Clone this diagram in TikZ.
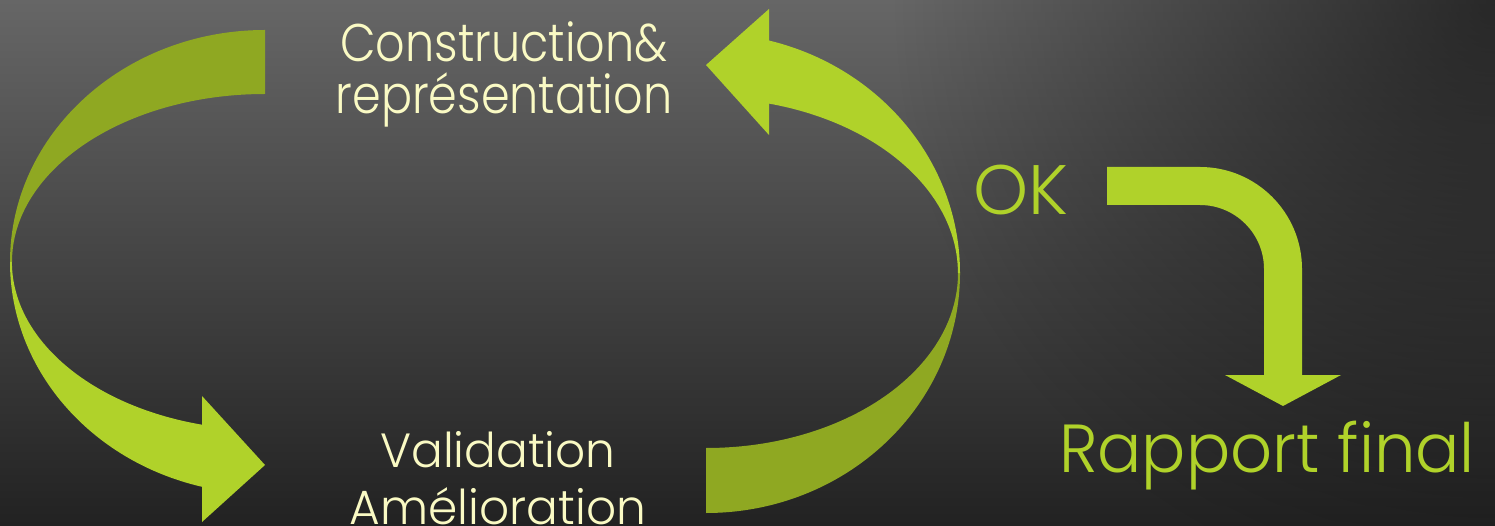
\documentclass[tikz,border=0pt]{standalone}
\usepackage{fontspec}
\IfFontExistsTF{Poppins Light}{\setmainfont{Poppins Light}}{\setmainfont{Poppins}}
\usetikzlibrary{fadings}
\definecolor{gbright}{HTML}{B0D22A}
\definecolor{gdark}{HTML}{8FA822}
\definecolor{txtcol}{HTML}{FAFAC4}
\definecolor{bgtop}{HTML}{666666}
\definecolor{bgbot}{HTML}{222222}
\tikzfading[name=cornerfade, inner color=transparent!40, outer color=transparent!100]
\newcommand{\narrow}[2]{\scalebox{#1}[1]{#2}}
\begin{document}
\begin{tikzpicture}[x=1pt,y=1pt,
  ribbonlight/.style={fill=gbright},
  ribbondark/.style={fill=gdark},
  pale/.style={text=txtcol, align=center, inner sep=0pt},
  greenlabel/.style={text=gbright, inner sep=0pt},
  lbendarrow/.style={draw=gbright, line width=38pt, rounded corners=83pt}]
\useasboundingbox (0,0) rectangle (1495,525);
\clip (0,0) rectangle (1495,525);
\shade[top color=bgtop, bottom color=bgbot] (0,0) rectangle (1495,525);
\fill[black, path fading=cornerfade] (895,-75) rectangle (2095,1125);
% left ribbon
\fill[ribbondark] (265,495) arc[start angle=90,end angle=180,x radius=255,y radius=232]
  -- (12,263) arc[start angle=180,end angle=90,x radius=253,y radius=168] -- cycle;
\fill[ribbonlight] (10,263) arc[start angle=180,end angle=255.7,x radius=255,y radius=232]
  -- (202,3) -- (265,60) -- (202,129) -- (202,100.3)
  arc[start angle=255.6,end angle=180,x radius=253,y radius=168] -- cycle;
% right ribbon
\fill[ribbondark] (706,12) arc[start angle=270,end angle=360,x radius=254,y radius=240]
  -- (958,252) arc[start angle=0,end angle=-90,x radius=252,y radius=175] -- cycle;
\fill[ribbonlight] (960,252) arc[start angle=0,end angle=75.6,x radius=254,y radius=240]
  -- (769,516) -- (706,460) -- (769,390) -- (769,421.4)
  arc[start angle=75.5,end angle=0,x radius=252,y radius=175] -- cycle;
% texts
\node[pale, font=\fontsize{53}{52}\selectfont, anchor=base] (cons) at (504,411)
  {\narrow{0.87}{Construction\&}\\\narrow{0.87}{représentation}};
\node[pale, font=\fontsize{48}{57}\selectfont, anchor=base] (valid) at (498,1)
  {\narrow{0.98}{Validation}\\\narrow{0.98}{Amélioration}};
\node[greenlabel, font=\fontsize{70}{80}\selectfont, anchor=base] (ok) at (1021,310) {OK};
\node[greenlabel, font=\fontsize{68}{80}\selectfont, anchor=base] (rapport) at (1267,53)
  {\narrow{0.965}{Rapport final}};
% OK -> Rapport final
\coordinate (bstart) at (1107,339);
\coordinate (bfinish) at (1283,150);
\draw[lbendarrow] (bstart) -| (bfinish);
\fill[gbright] (1225,150) -- (1341,150) -- (1283,119) -- cycle;
\end{tikzpicture}
\end{document}
